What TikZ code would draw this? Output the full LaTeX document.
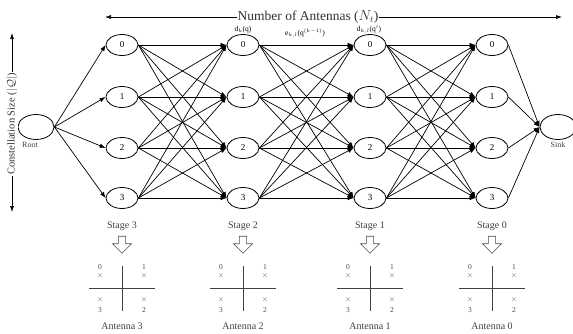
\documentclass[tikz,border=0pt]{standalone}
\usepackage{fontspec}
\setmainfont{Liberation Serif}
\usetikzlibrary{shapes.geometric,shapes.arrows,arrows.meta}
\begin{document}
\begin{tikzpicture}[x=1pt,y=-1pt,
  st/.style={ellipse,draw,line width=0.8pt,minimum width=32pt,minimum height=21pt,inner sep=0pt,font=\fontsize{9}{10}\selectfont,fill=white},
  term/.style={ellipse,draw,line width=0.8pt,minimum width=36pt,minimum height=25pt,inner sep=0pt},
  ed/.style={line width=0.7pt,-{Latex[length=6pt,width=4.5pt]}},
  lab/.style={font=\fontsize{7.5}{9}\selectfont,inner sep=1pt},
  stg/.style={font=\fontsize{10}{12}\selectfont,text=black!75},
  hol/.style={single arrow,draw,fill=white,shape border rotate=270,minimum height=17pt,minimum width=19pt,single arrow head extend=3pt,inner sep=1.5pt,line width=0.6pt,draw=black!70},
  axl/.style={line width=0.7pt,draw=black!75},
  cx/.style={font=\fontsize{7.5}{8}\selectfont,inner sep=0pt,text=black!70},
  dim/.style={line width=0.6pt,{Latex[length=6pt,width=4pt]}-{Latex[length=6pt,width=4pt]}}]
\useasboundingbox (0,0) rectangle (573,333);
\clip (0,0) rectangle (573,333);
% stage columns
\foreach \c/\x in {3/122,2/243,1/370,0/492}{
  \foreach \r/\y in {0/45,1/97,2/148,3/198}{
    \node[st] (s\c r\r) at (\x,\y) {\r};
  }
}
\node[term] (root) at (36,127) {};
\node[term] (sink) at (558,127) {};
\node[lab,font=\fontsize{8}{9}\selectfont,text=black!75] (rootl) at (30,145) {Root};
\node[lab,font=\fontsize{8}{9}\selectfont,text=black!75] (sinkl) at (558,145) {Sink};
% edges
\foreach \r in {0,...,3}{ \draw[ed] (root.east) -- (s3r\r.west); }
\foreach \a/\b in {3/2,2/1,1/0}{
  \foreach \i in {0,...,3}{
    \foreach \j in {0,...,3}{
      \draw[ed] (s\a r\i.east) -- (s\b r\j.west);
    }
  }
}
\foreach \r in {0,...,3}{ \draw[ed] (s0r\r.east) -- (sink.west); }
% labels on edges
\node[lab] (dk) at (243,30) {d$_k$(q)};
\node[lab] (ekl) at (305,33) {e$_{k,l}$(q$^{(k-1)}$)};
\node[lab] (dkl) at (369,30) {d$_{k,l}$(q$'$)};
% top dimension
\coordinate (tl) at (105,17);
\coordinate (tr) at (562,17);
\draw[dim] (tl) -- (tr);
\node[fill=white,font=\fontsize{13.5}{15}\selectfont,inner sep=1pt,text=black!80] (nt) at (308,17) {Number of Antennas ($N_t$)};
% left dimension
\coordinate (lt) at (12,33);
\coordinate (lb) at (12,212);
\draw[dim] (lt) -- (lb);
\node[fill=white,rotate=90,font=\fontsize{10.5}{12}\selectfont,inner sep=1pt,text=black!80] (cs) at (12,124) {Constellation Size ($|\mathcal{Q}|$)};
% stages and constellations
\foreach \c/\x in {3/122,2/243,1/370,0/492}{
  \node[stg] (stl\c) at (\x,226) {Stage \c};
  \node[hol] (ar\c) at (\x,243) {};
  \draw[axl] (\x,266) -- (\x,311);
  \draw[axl] (\x-33,288) -- (\x+33,288);
  \node[cx] (p0\c) at (\x-22,276) {$\times$};
  \node[cx] (p1\c) at (\x+22,276) {$\times$};
  \node[cx] (p3\c) at (\x-22,300) {$\times$};
  \node[cx] (p2\c) at (\x+22,300) {$\times$};
  \node[cx] (q0\c) at (\x-22,267) {0};
  \node[cx] (q1\c) at (\x+22,267) {1};
  \node[cx] (q3\c) at (\x-22,310) {3};
  \node[cx] (q2\c) at (\x+22,310) {2};
  \node[stg] (ant\c) at (\x,326) {Antenna \c};
}
\end{tikzpicture}
\end{document}
